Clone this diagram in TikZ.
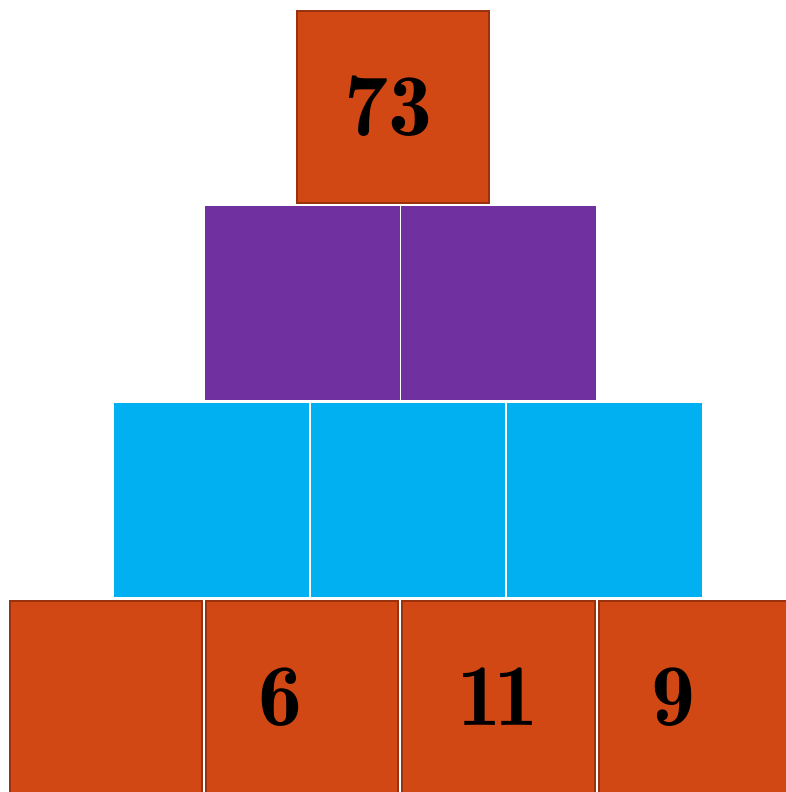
\documentclass[tikz,border=0pt]{standalone}
\definecolor{orng}{HTML}{D24815}
\definecolor{orngdark}{HTML}{9A3210}
\definecolor{purp}{HTML}{7030A0}
\definecolor{cyanb}{HTML}{00B0F0}
\begin{document}
\begin{tikzpicture}[x=1pt,y=-1pt,
  obox/.style={fill=orng,draw=orngdark,line width=2pt},
  pbox/.style={fill=purp},
  cbox/.style={fill=cyanb},
  num/.style={font=\fontsize{88}{88}\fontseries{b}\selectfont,inner sep=0pt}]
\useasboundingbox (0,0) rectangle (786,792);
\begin{scope}
\clip (0,0) rectangle (786,792);
% top
\draw[obox] (297,11) rectangle (488.5,202.5);
% purple row
\fill[pbox] (205,206) rectangle (399.5,400);
\fill[pbox] (401,206) rectangle (596,400);
% cyan row
\fill[cbox] (114,402.5) rectangle (308.5,597);
\fill[cbox] (310.5,402.5) rectangle (505,597);
\fill[cbox] (507,402.5) rectangle (702,597);
% bottom row
\draw[obox] (9.5,600.5) rectangle (201.5,795);
\draw[obox] (205.5,600.5) rectangle (398,795);
\draw[obox] (402,600.5) rectangle (595,795);
\draw[obox] (599,600.5) rectangle (792,795);
\end{scope}
\node[num] (t73) at (388,106) {73};
\node[num] (t6) at (280,697) {6};
\node[num] (t11) at (498,697) {1\kern-0.08em1};
\node[num] (t9) at (673,697) {9};
\end{tikzpicture}
\end{document}
